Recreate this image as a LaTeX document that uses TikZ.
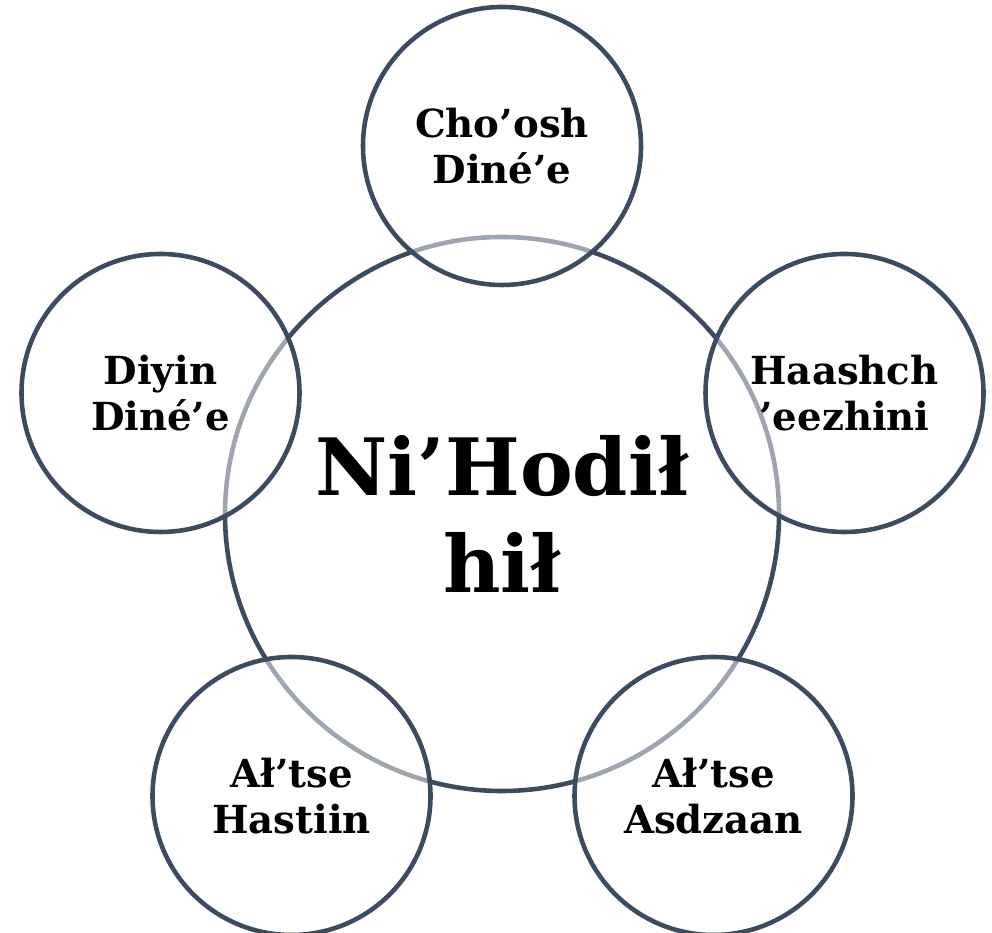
\documentclass[tikz,border=0pt]{standalone}
\usepackage{fontspec}
\setmainfont{DejaVu Serif}
\usepackage{xcolor}
\usepackage{tikz}
\definecolor{ringnavy}{HTML}{3D4B5F}

\begin{document}
\begin{tikzpicture}[
  bigring/.style={circle, draw=ringnavy, line width=2.6pt, minimum size=11.08cm, align=center, font=\bfseries\fontsize{45}{55}\selectfont},
  ring/.style={circle, draw=ringnavy, line width=2.6pt, fill=white, fill opacity=0.5, text opacity=1, minimum size=5.56cm, align=center, font=\bfseries\fontsize{22}{26}\selectfont}
]
\useasboundingbox (0,0) rectangle (19.84,18.66);
\node[bigring] (core) at (10.04,8.38) {Ni’Hodił\\hił};
\node[ring] (cho) at (10.04,15.74) {Cho’osh\\Diné’e};
\node[ring] (diyin) at (3.21,10.80) {Diyin\\Diné’e};
\node[ring] (haash) at (16.89,10.80) {Haashch\\’eezhini};
\node[ring] (hastiin) at (5.83,2.74) {Ał’tse\\Hastiin};
\node[ring] (asdzaan) at (14.27,2.74) {Ał’tse\\Asdzaan};
\end{tikzpicture}
\end{document}
